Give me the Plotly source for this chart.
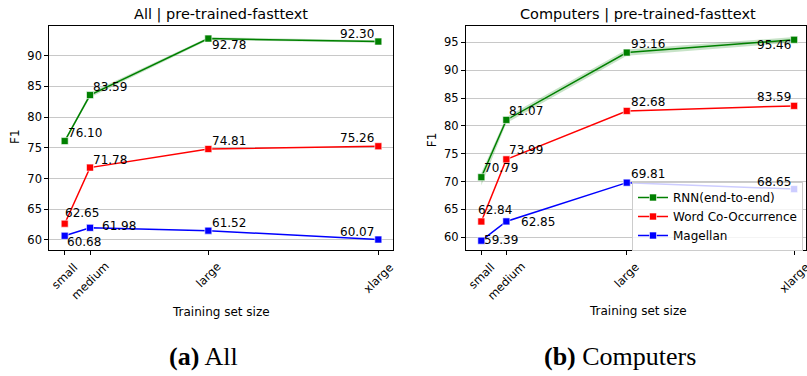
import plotly.graph_objects as go

W, H = 807, 376

# ---------------- data ----------------
size_labels = ["small", "medium", "large", "xlarge"]
# relative positions of the training-set sizes along the x axis
size_pos_all = [0.0, 0.0807, 0.458, 1.0]
size_pos_comp = [0.0, 0.080, 0.465, 1.0]

series_names = ["RNN(end-to-end)", "Word Co-Occurrence", "Magellan"]

all_rnn = [76.10, 83.59, 92.78, 92.30]
all_rnn_lo = [75.85, 83.20, 92.55, 92.10]
all_rnn_hi = [76.35, 83.95, 93.00, 92.50]
all_word = [62.65, 71.78, 74.81, 75.26]
all_mag = [60.68, 61.98, 61.52, 60.07]

comp_rnn = [70.79, 81.07, 93.16, 95.46]
comp_rnn_lo = [69.30, 80.50, 92.60, 94.95]
comp_rnn_hi = [71.60, 81.60, 93.70, 95.95]
comp_word = [62.84, 73.99, 82.68, 83.59]
comp_mag = [59.39, 62.85, 69.81, 68.65]

y_ticks_all = [60, 65, 70, 75, 80, 85, 90]
y_ticks_comp = [60, 65, 70, 75, 80, 85, 90, 95]

# ---------------- style ----------------
colors = ["#008000", "#ff0000", "#0000ff"]
band_color = "rgba(0,128,0,0.22)"
FONT = "DejaVu Sans"


def px_x(p):
    return p / W


def px_y(p):
    return 1 - p / H


# label offsets (anchor, dx px, dy px up) per series per point
lab_all = [
    [("left", 1, 8), ("left", 1, 8), ("left", 2, -6), ("right", -2, 8)],
    [("left", -2, 11), ("left", 1, 8), ("left", 2, 8), ("right", -2, 8)],
    [("left", 0, -6), ("left", 10, 2), ("left", 2, 8), ("right", -2, 8)],
]
lab_comp = [
    [("left", 1, 9), ("left", 1, 9), ("left", 2, 9), ("right", -1, -5)],
    [("left", -5, 11), ("left", 1, 9), ("left", 2, 9), ("right", -1, 9)],
    [("left", 1, 1), ("left", 13, -1), ("left", 2, 9), ("right", -1, 7)],
]

fig = go.Figure()


def add_panel(xa, ya, xs, rnn, lo, hi, word, mag, labels, show_legend):
    fig.add_trace(go.Scatter(x=xs, y=hi, xaxis=xa, yaxis=ya, mode="lines",
                             line=dict(width=0), showlegend=False, hoverinfo="skip"))
    fig.add_trace(go.Scatter(x=xs, y=lo, xaxis=xa, yaxis=ya, mode="lines",
                             line=dict(width=0), fill="tonexty", fillcolor=band_color,
                             showlegend=False, hoverinfo="skip"))
    for name, vals, col, labs in zip(series_names, [rnn, word, mag], colors, labels):
        fig.add_trace(go.Scatter(
            x=xs, y=vals, xaxis=xa, yaxis=ya, mode="lines+markers", name=name,
            line=dict(color=col, width=1.5),
            marker=dict(symbol="square", size=7, color=col, line=dict(color="white", width=0.6)),
            showlegend=show_legend))
        for xv, yv, (anc, dx, dy) in zip(xs, vals, labs):
            fig.add_annotation(x=xv, y=yv, xref=xa, yref=ya, text=f"{yv:.2f}",
                               showarrow=False, xanchor=anc, yanchor="middle",
                               xshift=dx, yshift=dy,
                               font=dict(family=FONT, size=12, color="black"))
    for xv, lab in zip(xs, size_labels):
        fig.add_annotation(x=xv, y=px_y(257), xref=xa, yref="paper", text=lab,
                           showarrow=False, xanchor="center", yanchor="top",
                           textangle=-45, font=dict(family=FONT, size=11.5, color="black"))


add_panel("x", "y", size_pos_all, all_rnn, all_rnn_lo, all_rnn_hi, all_word, all_mag, lab_all, False)
add_panel("x2", "y2", size_pos_comp, comp_rnn, comp_rnn_lo, comp_rnn_hi, comp_word, comp_mag, lab_comp, True)

axis_common = dict(showline=True, mirror=True, linecolor="black", linewidth=1,
                   ticks="outside", ticklen=4, tickcolor="black", tickwidth=1,
                   zeroline=False, tickfont=dict(family=FONT, size=11.5, color="black"))

ydom = [px_y(250), px_y(26)]
fig.update_layout(
    width=W, height=H, autosize=False,
    margin=dict(l=0, r=0, t=0, b=0),
    paper_bgcolor="white", plot_bgcolor="white",
    showlegend=True,
    xaxis=dict(domain=[px_x(49.3), px_x(393.3)], range=[-0.0491, 1.0478],
               tickvals=size_pos_all, showticklabels=False, showgrid=False,
               anchor="y", **axis_common),
    yaxis=dict(domain=ydom, range=[58.37, 94.83], tickvals=y_ticks_all,
               showgrid=True, gridcolor="#c8c8c8", gridwidth=1, anchor="x", **axis_common),
    xaxis2=dict(domain=[px_x(466), px_x(806)], range=[-0.049, 1.038],
                tickvals=size_pos_comp, showticklabels=False, showgrid=False,
                anchor="y2", **axis_common),
    yaxis2=dict(domain=ydom, range=[57.72, 97.93], tickvals=y_ticks_comp,
                showgrid=True, gridcolor="#c8c8c8", gridwidth=1, anchor="x2", **axis_common),
    legend=dict(x=px_x(632), y=px_y(182), xanchor="left", yanchor="top",
                traceorder="normal",
                bgcolor="rgba(255,255,255,0.8)", bordercolor="#cccccc", borderwidth=1,
                font=dict(family=FONT, size=12, color="black"), tracegroupgap=0),
)

# titles, axis labels, captions
texts = [
    ("All | pre-trained-fasttext", 221.3, 15, 14.5, 0, FONT),
    ("Computers | pre-trained-fasttext", 637.5, 15, 14.5, 0, FONT),
    ("F1", 15, 137, 12, -90, FONT),
    ("F1", 431.7, 139.5, 12, -90, FONT),
    ("Training set size", 221, 311.5, 12, 0, FONT),
    ("Training set size", 637.5, 311, 12, 0, FONT),
    ("<b>(a)</b> All", 203.5, 356, 26, 0, "Liberation Serif"),
    ("<b>(b)</b> Computers", 619.7, 356, 26, 0, "Liberation Serif"),
]
for t, xp, yp, sz, ang, fam in texts:
    fig.add_annotation(x=px_x(xp), y=px_y(yp), xref="paper", yref="paper", text=t,
                       showarrow=False, xanchor="center", yanchor="middle", textangle=ang,
                       font=dict(family=fam, size=sz, color="black"))

fig.write_html("out.html", config={"displayModeBar": False},
               post_script="document.body.style.margin='0px';document.body.style.overflow='hidden';")
